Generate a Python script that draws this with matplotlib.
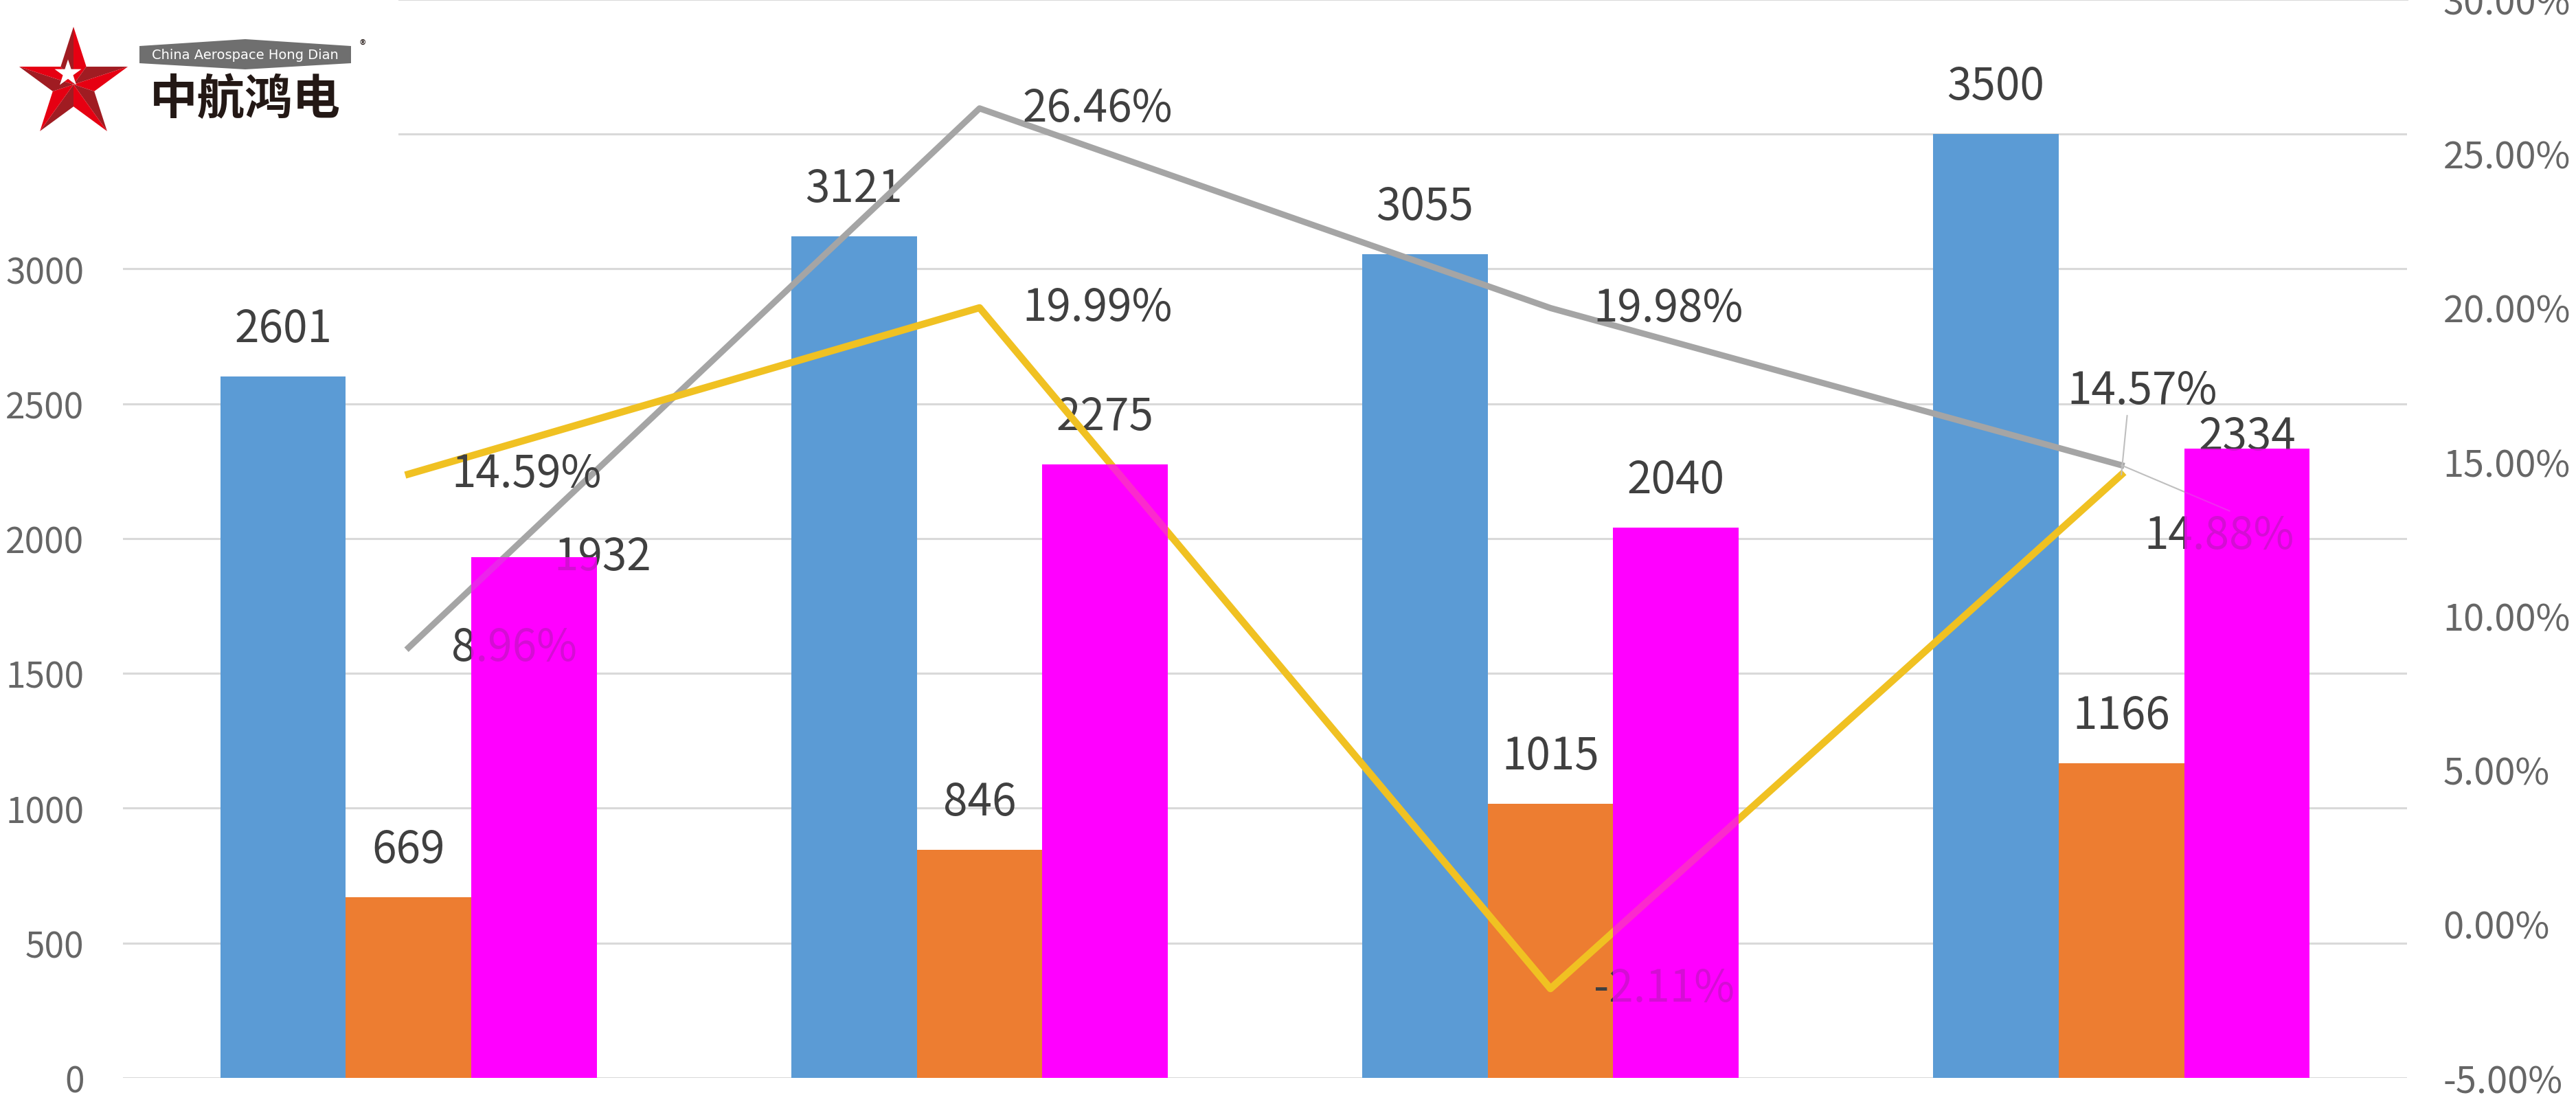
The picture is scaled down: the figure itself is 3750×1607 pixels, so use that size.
import numpy as np
import matplotlib
matplotlib.use('Agg')
import matplotlib.pyplot as plt
from matplotlib.patches import Polygon, Rectangle
from matplotlib.ticker import FuncFormatter

plt.rcParams['font.family'] = ['Noto Sans CJK SC', 'DejaVu Sans']

# data
values_blue = [2601, 3121, 3055, 3500]
values_orange = [669, 846, 1015, 1166]
values_magenta = [1932, 2275, 2040, 2334]
rate_gray = [8.96, 26.46, 19.98, 14.88]      # %
rate_yellow = [14.59, 19.99, -2.11, 14.57]   # %
left_ticks = [0, 500, 1000, 1500, 2000, 2500, 3000, 3500]
right_ticks = [-5, 0, 5, 10, 15, 20, 25, 30]

# label offsets in points (x, y)
off_blue = [(0, 50)] * 4
off_orange = [(0, 50)] * 4
off_magenta = [(72, 0), (0, 50), (0, 50), (0, 12)]
off_gray = [(45, 0), (45, 0), (45, 0), (24, -74)]
off_yellow = [(45, 0), (45, 0), (45, 0), (22, 88)]

c_blue = '#5B9BD5'
c_orange = '#ED7D31'
c_magenta = '#FF00FF'
c_gray = '#A5A5A5'
c_yellow = '#F0C122'
c_text = '#404040'
c_tick = '#666666'
c_grid = '#D9D9D9'

W, H = 3750, 1608
fig = plt.figure(figsize=(W / 100, H / 100), dpi=100)
fig.patch.set_facecolor('white')

x = np.arange(len(values_blue))
bw = 0.22

ax = fig.add_axes([75 / 1568, 16 / 672, 1390 / 1568, 656 / 672])
ax.set_xlim(-0.5, len(x) - 0.5)
ax.set_ylim(0, 4000)
ax.set_yticks(left_ticks)
ax.set_xticks([])
ax.grid(axis='y', color=c_grid, lw=2.2, zorder=0)
ax.set_axisbelow(True)
ax.tick_params(axis='y', length=0, pad=41, labelsize=37, labelcolor=c_tick)
for s in ax.spines.values():
    s.set_visible(False)
ax.spines['top'].set_visible(True)
ax.spines['top'].set_color(c_grid)
ax.spines['top'].set_linewidth(2.2)

ax.bar(x - bw, values_blue, bw, color=c_blue, zorder=2)
ax.bar(x, values_orange, bw, color=c_orange, zorder=2)
ax.bar(x + bw, values_magenta, bw, color=c_magenta, zorder=2)

for vals, xs, offs in [(values_blue, x - bw, off_blue),
                       (values_orange, x, off_orange),
                       (values_magenta, x + bw, off_magenta)]:
    for xi, v, o in zip(xs, vals, offs):
        ax.annotate(str(v), (xi, v), xytext=o, textcoords='offset points',
                    ha='center', va='center', fontsize=46, color=c_text, zorder=3)

# rate lines on the right axis
ax2 = ax.twinx()
ax2.set_ylim(-5, 30)
ax2.set_yticks(right_ticks)
ax2.yaxis.set_major_formatter(FuncFormatter(lambda v, p: f'{v:.2f}%'))
ax2.tick_params(axis='y', length=0, pad=38, labelsize=39, labelcolor=c_tick)
for s in ax2.spines.values():
    s.set_visible(False)

ax2.plot(x, rate_gray, color=c_gray, lw=6.5, solid_joinstyle='round', zorder=3)
ax2.plot(x, rate_yellow, color=c_yellow, lw=7.5, solid_joinstyle='round', zorder=3)

for rates, offs in [(rate_gray, off_gray), (rate_yellow, off_yellow)]:
    for i, (r, o) in enumerate(zip(rates, offs)):
        if i == len(rates) - 1:
            above = o[1] > 0
            ax2.annotate(f'{r:.2f}%', (x[i], r), xytext=o, textcoords='offset points',
                         ha='center' if above else 'left', va='center',
                         fontsize=46, color=c_text,
                         arrowprops=dict(arrowstyle='-', color='#BFBFBF', lw=1.5,
                                         shrinkA=0, shrinkB=0,
                                         relpos=(0.4, 0) if above else (0.6, 1)))
        else:
            ax2.annotate(f'{r:.2f}%', (x[i], r), xytext=o, textcoords='offset points',
                         ha='left', va='center', fontsize=46, color=c_text)

# magenta bars are painted again on top of the lines and labels
ax3 = ax.twinx()
ax3.set_ylim(ax.get_ylim())
ax3.axis('off')
ax3.bar(x + bw, values_magenta, bw, color=c_magenta, alpha=0.78, zorder=4)

# logo block, top left
LW, LH = 580, 240
lax = fig.add_axes([0, 1 - LH / H, LW / W, LH / H])
lax.set_zorder(10)
lax.set_xlim(0, LW)
lax.set_ylim(LH, 0)
lax.axis('off')
lax.add_patch(Rectangle((0, 0), LW, LH, color='white', zorder=0))


def star_points(cx, cy, r, sx=1.0, ratio=0.382):
    tips, inner = [], []
    for k in range(5):
        a = np.deg2rad(-90 + 72 * k)
        b = np.deg2rad(-90 + 72 * k + 36)
        tips.append((cx + sx * r * np.cos(a), cy + r * np.sin(a)))
        inner.append((cx + sx * r * ratio * np.cos(b), cy + r * ratio * np.sin(b)))
    return tips, inner


scx, scy = 107, 124
tips, inner = star_points(scx, scy, 84, 0.99)
for k in range(5):
    lax.add_patch(Polygon([(scx, scy), inner[k - 1], tips[k]], closed=True,
                          facecolor='#A01C22', edgecolor='none', zorder=1))
    lax.add_patch(Polygon([(scx, scy), tips[k], inner[k]], closed=True,
                          facecolor='#E60012', edgecolor='none', zorder=1))
wt, wi = star_points(99, 108, 20.5)
pts = [p for pair in zip(wt, wi) for p in pair]
lax.add_patch(Polygon(pts, closed=True, facecolor='white', edgecolor='none', zorder=2))

lax.add_patch(Polygon([(203, 68), (357, 58), (511, 68), (511, 93), (357, 102), (203, 93)],
                      closed=True, facecolor='#6F6F6F', edgecolor='none', zorder=1))
lax.text(357, 80, 'China Aerospace Hong Dian', ha='center', va='center',
         fontsize=14, color='white', family=['DejaVu Sans'], zorder=3)
lax.text(528, 66, '®', ha='center', va='center', fontsize=13, color='#231815', zorder=3)
lax.text(357, 146, '中航鸿电', ha='center', va='center', fontsize=50,
         weight='bold', color='#231815', zorder=3)

fig.savefig('out.png', dpi=100)
